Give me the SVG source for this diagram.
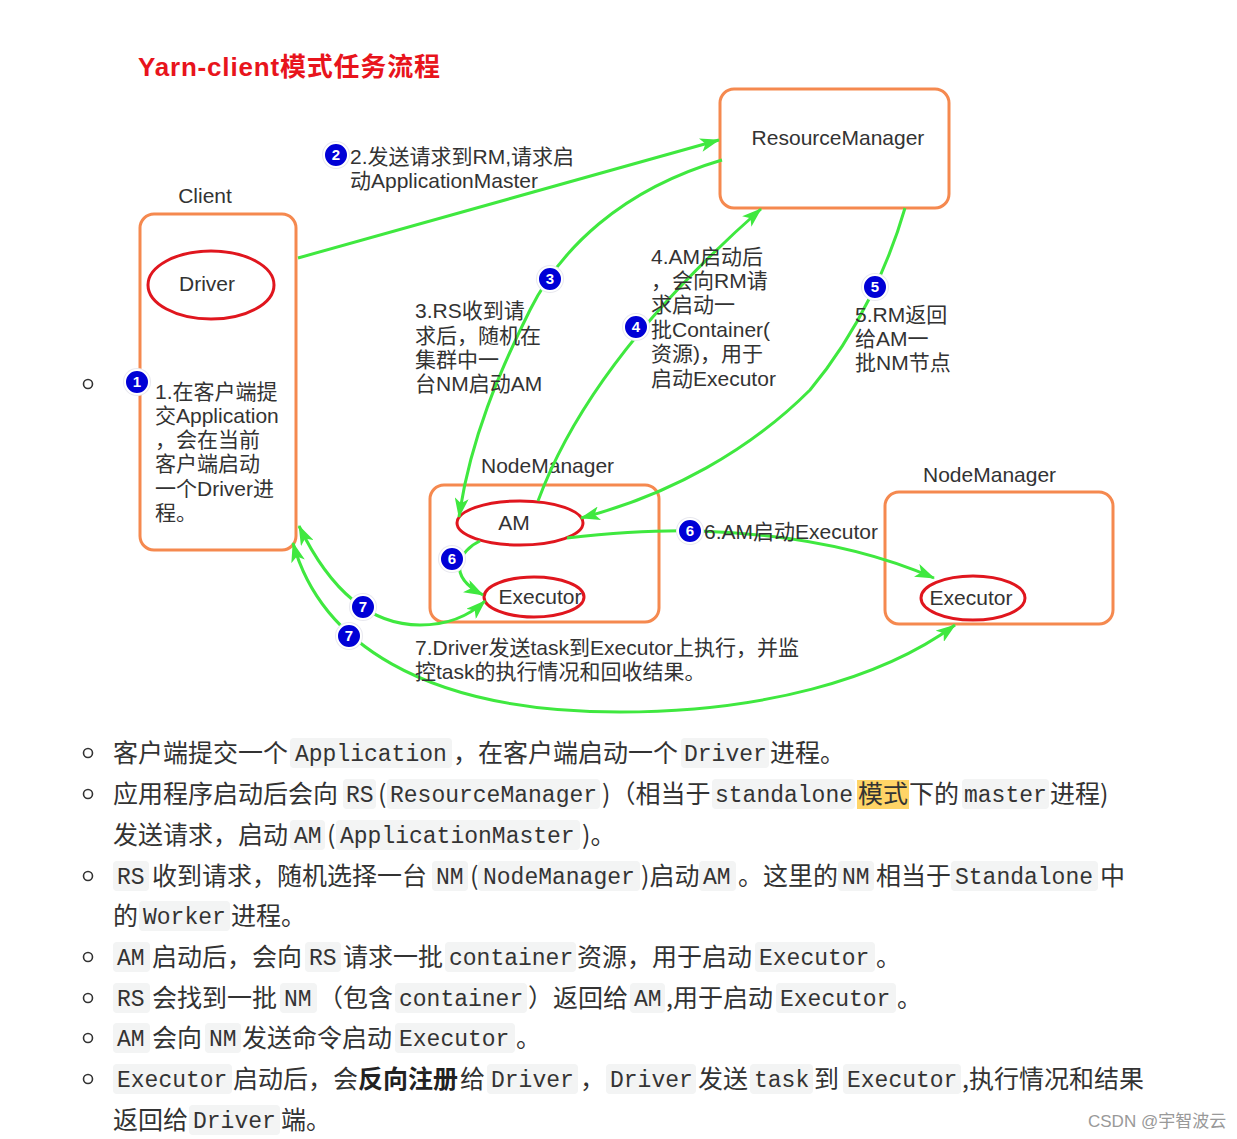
<svg xmlns="http://www.w3.org/2000/svg" width="1237" height="1139" viewBox="0 0 1237 1139">
<style>
.bg{fill:#fff}
.box{fill:none;stroke:#f5894f;stroke-width:3}
.ell{fill:#fff;stroke:#e0161e;stroke-width:3}
.lbl{font-family:"Liberation Sans","Noto Sans CJK SC",sans-serif;font-size:21px;fill:#333}
.title{font-family:"Liberation Sans","Noto Sans CJK SC",sans-serif;font-size:26px;font-weight:bold;fill:#e8141c}
.edge{fill:none;stroke:#3fe83f;stroke-width:3}
.bh{fill:#e9e9ef}
.bc{fill:#0000d6;stroke:#fff;stroke-width:2}
.bn{font-family:"Liberation Sans",sans-serif;font-size:15px;font-weight:bold;fill:#fff;text-anchor:middle}
.t{font-family:"Noto Sans CJK SC","Noto Sans",sans-serif;font-size:25px;fill:#333}
.tb{font-family:"Noto Sans CJK SC","Noto Sans",sans-serif;font-size:25px;fill:#222;font-weight:bold}
.c{font-family:"Liberation Mono","DejaVu Sans Mono",monospace;font-size:23px;fill:#333}
.cb{fill:#f3f4f4}
.bul{fill:none;stroke:#333;stroke-width:1.6}
.wm{font-family:"Liberation Sans","Noto Sans CJK SC",sans-serif;font-size:17px;fill:#999}
</style>
<defs>
<marker id="ah" viewBox="0 0 20 14" refX="19" refY="7" markerWidth="20" markerHeight="14" markerUnits="userSpaceOnUse" orient="auto-start-reverse">
<path d="M0,0 L20,7 L0,14 L5,7 z" fill="#3fe83f"/>
</marker>
</defs>
<rect class="bg" x="0" y="0" width="1237" height="1139"/>
<text class="title" x="138" y="76" textLength="302" lengthAdjust="spacing">Yarn-client模式任务流程</text>

<g id="client">
<text class="lbl" x="205" y="203" text-anchor="middle">Client</text>
<rect class="box" x="140" y="214" width="156" height="336" rx="14"/>
<text class="lbl" x="155" y="399">1.在客户端提</text>
<text class="lbl" x="155" y="423">交Application</text>
<text class="lbl" x="155" y="447">，会在当前</text>
<text class="lbl" x="155" y="471">客户端启动</text>
<text class="lbl" x="155" y="496">一个Driver进</text>
<text class="lbl" x="155" y="520">程。</text>
</g>
<g id="driver">
<ellipse class="ell" cx="211" cy="285" rx="63" ry="34"/>
<text class="lbl" x="207" y="291" text-anchor="middle">Driver</text>
</g>
<g id="resourcemanager">
<rect class="box" x="720" y="89" width="229" height="119" rx="14"/>
<text class="lbl" x="838" y="145" text-anchor="middle">ResourceManager</text>
</g>
<g id="nodemanager1">
<text class="lbl" x="481" y="473">NodeManager</text>
<rect class="box" x="430" y="485" width="229" height="137" rx="14"/>
</g>
<g id="am">
<ellipse class="ell" cx="520" cy="523" rx="63" ry="22"/>
<text class="lbl" x="514" y="530" text-anchor="middle">AM</text>
</g>
<g id="executor1">
<ellipse class="ell" cx="534" cy="597" rx="50" ry="20"/>
<text class="lbl" x="540" y="604" text-anchor="middle">Executor</text>
</g>
<g id="nodemanager2">
<text class="lbl" x="923" y="482">NodeManager</text>
<rect class="box" x="885" y="492" width="228" height="132" rx="14"/>
</g>
<g id="executor2">
<ellipse class="ell" cx="973" cy="598" rx="52" ry="22"/>
<text class="lbl" x="971" y="605" text-anchor="middle">Executor</text>
</g>

<g id="connectors">
<path class="edge" d="M298,258 L719,140" marker-end="url(#ah)"/>
<path class="edge" d="M722,160 C620,190 560,250 530,310 C500,370 470,440 459,517" marker-end="url(#ah)"/>
<path class="edge" d="M538,501 Q590,360 761,209" marker-end="url(#ah)"/>
<path class="edge" d="M905,208 C890,260 860,330 810,390 C750,450 670,495 581,518" marker-end="url(#ah)"/>
<path class="edge" d="M480,541 C460,550 445,575 483,595" marker-end="url(#ah)"/>
<path class="edge" d="M567,538 C620,532 670,530 700,531 C790,534 870,550 934,578" marker-end="url(#ah)"/>
<path class="edge" d="M299,526 C330,590 370,625 420,625 C450,625 470,615 485,601" marker-start="url(#ah)" marker-end="url(#ah)"/>
<path class="edge" d="M293,543 C320,640 420,712 620,712 C760,712 880,680 955,625" marker-start="url(#ah)" marker-end="url(#ah)"/>
</g>

<g id="labels">
<text class="lbl" x="350" y="164">2.发送请求到RM,请求启</text>
<text class="lbl" x="350" y="188">动ApplicationMaster</text>
<text class="lbl" x="415" y="318">3.RS收到请</text>
<text class="lbl" x="415" y="343">求后，随机在</text>
<text class="lbl" x="415" y="367">集群中一</text>
<text class="lbl" x="415" y="391">台NM启动AM</text>
<text class="lbl" x="651" y="264">4.AM启动后</text>
<text class="lbl" x="651" y="288">，会向RM请</text>
<text class="lbl" x="651" y="312">求启动一</text>
<text class="lbl" x="651" y="337">批Container(</text>
<text class="lbl" x="651" y="361">资源)，用于</text>
<text class="lbl" x="651" y="386">启动Executor</text>
<text class="lbl" x="855" y="322">5.RM返回</text>
<text class="lbl" x="855" y="346">给AM一</text>
<text class="lbl" x="855" y="370">批NM节点</text>
<text class="lbl" x="704" y="539">6.AM启动Executor</text>
<text class="lbl" x="415" y="655">7.Driver发送task到Executor上执行，并监</text>
<text class="lbl" x="415" y="679">控task的执行情况和回收结果。</text>
</g>

<g id="badges">
<circle class="bh" cx="137" cy="382" r="14"/><circle class="bc" cx="137" cy="382" r="12"/><text class="bn" x="137" y="387">1</text>
<circle class="bh" cx="336" cy="155" r="14"/><circle class="bc" cx="336" cy="155" r="12"/><text class="bn" x="336" y="160">2</text>
<circle class="bh" cx="550" cy="279" r="14"/><circle class="bc" cx="550" cy="279" r="12"/><text class="bn" x="550" y="284">3</text>
<circle class="bh" cx="636" cy="327" r="14"/><circle class="bc" cx="636" cy="327" r="12"/><text class="bn" x="636" y="332">4</text>
<circle class="bh" cx="875" cy="287" r="14"/><circle class="bc" cx="875" cy="287" r="12"/><text class="bn" x="875" y="292">5</text>
<circle class="bh" cx="452" cy="559" r="14"/><circle class="bc" cx="452" cy="559" r="12"/><text class="bn" x="452" y="564">6</text>
<circle class="bh" cx="690" cy="531" r="14"/><circle class="bc" cx="690" cy="531" r="12"/><text class="bn" x="690" y="536">6</text>
<circle class="bh" cx="363" cy="607" r="14"/><circle class="bc" cx="363" cy="607" r="12"/><text class="bn" x="363" y="612">7</text>
<circle class="bh" cx="349" cy="636" r="14"/><circle class="bc" cx="349" cy="636" r="12"/><text class="bn" x="349" y="641">7</text>
</g>

<g id="bullets">
<circle class="bul" cx="88" cy="384" r="4.5"/>
<circle class="bul" cx="88" cy="753" r="4.5"/>
<circle class="bul" cx="88" cy="794" r="4.5"/>
<circle class="bul" cx="88" cy="876" r="4.5"/>
<circle class="bul" cx="88" cy="957" r="4.5"/>
<circle class="bul" cx="88" cy="998" r="4.5"/>
<circle class="bul" cx="88" cy="1038" r="4.5"/>
<circle class="bul" cx="88" cy="1079" r="4.5"/>
</g>

<g id="list">
<!-- line 1 -->
<text class="t" x="113" y="762">客户端提交一个</text>
<rect class="cb" x="290" y="738" width="162" height="30" rx="4"/><text class="c" x="295" y="761">Application</text>
<text class="t" x="453" y="762">，在客户端启动一个</text>
<rect class="cb" x="681" y="738" width="88" height="30" rx="4"/><text class="c" x="684" y="761">Driver</text>
<text class="t" x="770" y="762">进程。</text>
<!-- line 2 -->
<text class="t" x="113" y="803">应用程序启动后会向</text>
<rect class="cb" x="343" y="779" width="33" height="30" rx="4"/><text class="c" x="346" y="802">RS</text>
<text class="t" x="378" y="803">(</text>
<rect class="cb" x="387" y="779" width="213" height="30" rx="4"/><text class="c" x="390" y="802">ResourceManager</text>
<text class="t" x="602" y="803">)（相当于</text>
<rect class="cb" x="712" y="779" width="143" height="30" rx="4"/><text class="c" x="715" y="802">standalone</text>
<rect x="857" y="780" width="52" height="29" fill="#ffd466"/>
<text class="t" x="858" y="803">模式</text>
<text class="t" x="909" y="803">下的</text>
<rect class="cb" x="962" y="779" width="87" height="30" rx="4"/><text class="c" x="964" y="802">master</text>
<text class="t" x="1050" y="803">进程)</text>
<!-- line 3 -->
<text class="t" x="113" y="844">发送请求，启动</text>
<rect class="cb" x="290" y="820" width="35" height="30" rx="4"/><text class="c" x="294" y="843">AM</text>
<text class="t" x="327" y="844">(</text>
<rect class="cb" x="336" y="820" width="244" height="30" rx="4"/><text class="c" x="340" y="843">ApplicationMaster</text>
<text class="t" x="582" y="844">)。</text>
<!-- line 4 -->
<rect class="cb" x="113" y="861" width="36" height="30" rx="4"/><text class="c" x="117" y="884">RS</text>
<text class="t" x="152" y="885">收到请求，随机选择一台</text>
<rect class="cb" x="432" y="861" width="36" height="30" rx="4"/><text class="c" x="436" y="884">NM</text>
<text class="t" x="470" y="885">(</text>
<rect class="cb" x="478" y="861" width="162" height="30" rx="4"/><text class="c" x="483" y="884">NodeManager</text>
<text class="t" x="641" y="885">)启动</text>
<rect class="cb" x="699" y="861" width="37" height="30" rx="4"/><text class="c" x="703" y="884">AM</text>
<text class="t" x="738" y="885">。这里的</text>
<rect class="cb" x="838" y="861" width="36" height="30" rx="4"/><text class="c" x="842" y="884">NM</text>
<text class="t" x="876" y="885">相当于</text>
<rect class="cb" x="951" y="861" width="147" height="30" rx="4"/><text class="c" x="955" y="884">Standalone</text>
<text class="t" x="1100" y="885">中</text>
<!-- line 5 -->
<text class="t" x="113" y="925">的</text>
<rect class="cb" x="139" y="901" width="91" height="30" rx="4"/><text class="c" x="143" y="924">Worker</text>
<text class="t" x="231" y="925">进程。</text>
<!-- line 6 -->
<rect class="cb" x="113" y="942" width="37" height="30" rx="4"/><text class="c" x="117" y="965">AM</text>
<text class="t" x="152" y="966">启动后，会向</text>
<rect class="cb" x="305" y="942" width="36" height="30" rx="4"/><text class="c" x="309" y="965">RS</text>
<text class="t" x="343" y="966">请求一批</text>
<rect class="cb" x="445" y="942" width="131" height="30" rx="4"/><text class="c" x="449" y="965">container</text>
<text class="t" x="577" y="966">资源，用于启动</text>
<rect class="cb" x="755" y="942" width="120" height="30" rx="4"/><text class="c" x="759" y="965">Executor</text>
<text class="t" x="876" y="966">。</text>
<!-- line 7 -->
<rect class="cb" x="113" y="983" width="37" height="30" rx="4"/><text class="c" x="117" y="1006">RS</text>
<text class="t" x="152" y="1007">会找到一批</text>
<rect class="cb" x="280" y="983" width="37" height="30" rx="4"/><text class="c" x="284" y="1006">NM</text>
<text class="t" x="318" y="1007">（包含</text>
<rect class="cb" x="395" y="983" width="132" height="30" rx="4"/><text class="c" x="399" y="1006">container</text>
<text class="t" x="528" y="1007">）返回给</text>
<rect class="cb" x="630" y="983" width="35" height="30" rx="4"/><text class="c" x="634" y="1006">AM</text>
<text class="t" x="666" y="1007">,用于启动</text>
<rect class="cb" x="776" y="983" width="120" height="30" rx="4"/><text class="c" x="780" y="1006">Executor</text>
<text class="t" x="897" y="1007">。</text>
<!-- line 8 -->
<rect class="cb" x="113" y="1023" width="37" height="30" rx="4"/><text class="c" x="117" y="1046">AM</text>
<text class="t" x="152" y="1047">会向</text>
<rect class="cb" x="205" y="1023" width="36" height="30" rx="4"/><text class="c" x="209" y="1046">NM</text>
<text class="t" x="242" y="1047">发送命令启动</text>
<rect class="cb" x="395" y="1023" width="120" height="30" rx="4"/><text class="c" x="399" y="1046">Executor</text>
<text class="t" x="516" y="1047">。</text>
<!-- line 9 -->
<rect class="cb" x="113" y="1064" width="119" height="30" rx="4"/><text class="c" x="117" y="1087">Executor</text>
<text class="t" x="233" y="1088">启动后，会</text>
<text class="tb" x="358" y="1088">反向注册</text>
<text class="t" x="460" y="1088">给</text>
<rect class="cb" x="487" y="1064" width="91" height="30" rx="4"/><text class="c" x="491" y="1087">Driver</text>
<text class="t" x="580" y="1088">，</text>
<rect class="cb" x="606" y="1064" width="90" height="30" rx="4"/><text class="c" x="610" y="1087">Driver</text>
<text class="t" x="698" y="1088">发送</text>
<rect class="cb" x="750" y="1064" width="63" height="30" rx="4"/><text class="c" x="754" y="1087">task</text>
<text class="t" x="814" y="1088">到</text>
<rect class="cb" x="843" y="1064" width="118" height="30" rx="4"/><text class="c" x="847" y="1087">Executor</text>
<text class="t" x="962" y="1088">,执行情况和结果</text>
<!-- line 10 -->
<text class="t" x="113" y="1129">返回给</text>
<rect class="cb" x="189" y="1105" width="91" height="30" rx="4"/><text class="c" x="193" y="1128">Driver</text>
<text class="t" x="281" y="1129">端。</text>
</g>
<text class="wm" x="1088" y="1127">CSDN @宇智波云</text>
</svg>
